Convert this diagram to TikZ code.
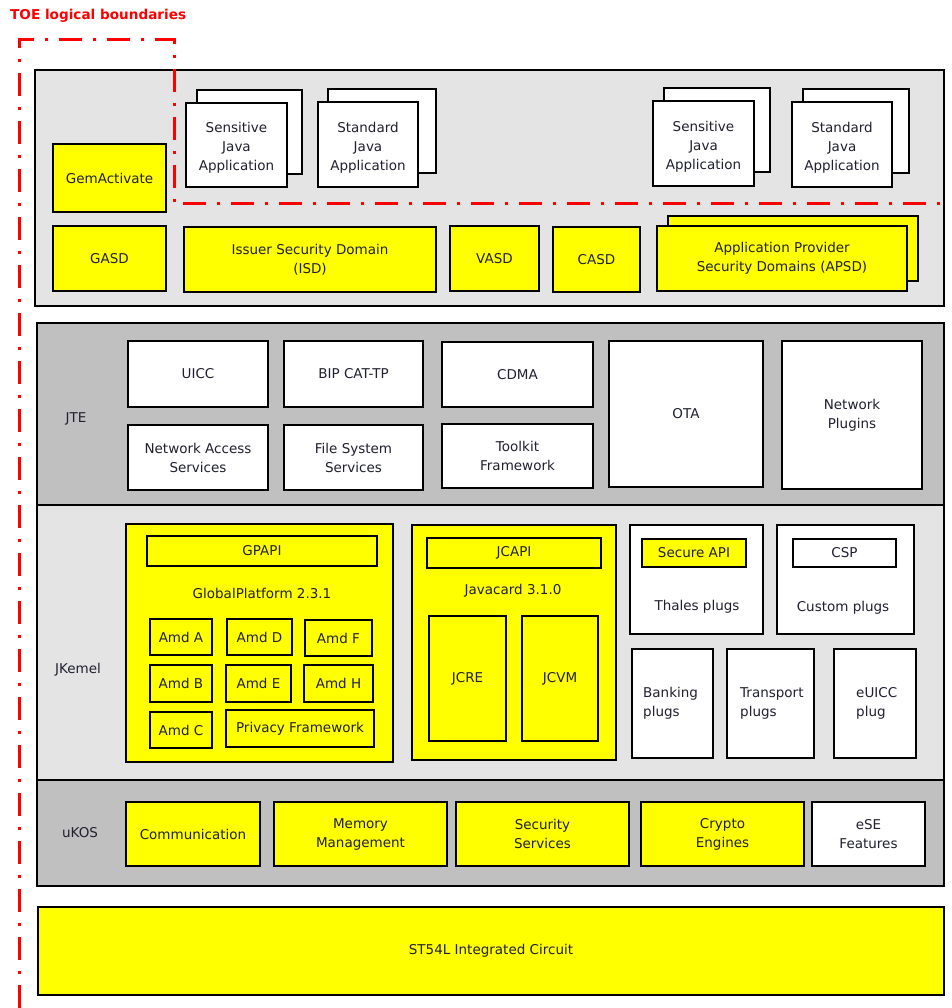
\documentclass[tikz,border=0pt]{standalone}
\usepackage{fontspec}
\setmainfont{DejaVu Sans}
\definecolor{lgray}{HTML}{E4E4E4}
\definecolor{dgray}{HTML}{C0C0C0}
\definecolor{yel}{HTML}{FFFF00}
\definecolor{toered}{HTML}{FF0000}
\definecolor{txt}{HTML}{202030}
\tikzset{
  box/.style={draw=black, line width=1.6pt, inner sep=0pt, outer sep=0pt, align=center, text=txt, font=\fontsize{13.5}{19}\selectfont},
  ybox/.style={box, fill=yel},
  wbox/.style={box, fill=white},
  tall/.style={text height=54pt},
  layerL/.style={box, fill=lgray, line width=1.5pt},
  layerD/.style={box, fill=dgray, line width=1.5pt},
  lbl/.style={inner sep=0pt, text=txt, font=\fontsize{13.5}{19}\selectfont, align=center},
  lbll/.style={lbl, anchor=west, align=left},
  toe/.style={draw=toered, line width=3pt, dash pattern=on 23pt off 11pt on 3pt off 11pt},
}
\newcommand\bx[7]{\node[#6, anchor=north west, minimum width={#4-#2}, minimum height={#5-#3}] (#1) at (#2,#3) {#7};}
\begin{document}
\begin{tikzpicture}[x=1pt, y=-1pt]
\useasboundingbox (0,0) rectangle (951,1008);
% layers
\bx{app}{35}{70}{944}{306}{layerL}{}
\bx{jte}{37}{323}{944}{505}{layerD}{}
\bx{jk}{37}{505}{944}{780}{layerL}{}
\bx{ukos}{37}{780}{944}{886}{layerD}{}
\bx{ic}{38}{907}{944}{995}{ybox}{ST54L Integrated Circuit}
% application layer
\bx{gem}{53}{144}{166}{212}{ybox}{GemActivate}
\bx{sjaB}{197}{90}{302}{174}{wbox}{}
\bx{sja}{186}{103}{287}{187}{wbox,tall}{Sensitive\\Java\\Application}
\bx{stjaB}{328}{89}{436}{173}{wbox}{}
\bx{stja}{318}{102}{418}{187}{wbox,tall}{Standard\\Java\\Application}
\bx{sjbB}{664}{88}{770}{172}{wbox}{}
\bx{sjb}{653}{101}{754}{186}{wbox,tall}{Sensitive\\Java\\Application}
\bx{stjbB}{803}{89}{909}{173}{wbox}{}
\bx{stjb}{792}{102}{892}{187}{wbox,tall}{Standard\\Java\\Application}
\bx{gasd}{53}{226}{166}{291}{ybox}{GASD}
\bx{isd}{184}{227}{436}{292}{ybox}{Issuer Security Domain\\(ISD)}
\bx{vasd}{450}{226}{539}{291}{ybox}{VASD}
\bx{casd}{553}{227}{640}{292}{ybox}{CASD}
\bx{apsdB}{668}{216}{918}{281}{ybox}{}
\bx{apsd}{657}{226}{907}{291}{ybox}{Application Provider\\Security Domains (APSD)}
% JTE
\node[lbl] (jtel) at (76,419) {JTE};
\bx{uicc}{128}{341}{268}{407}{wbox}{UICC}
\bx{bip}{284}{341}{423}{407}{wbox}{BIP CAT-TP}
\bx{cdma}{442}{342}{593}{407}{wbox}{CDMA}
\bx{nas}{128}{425}{268}{490}{wbox}{Network Access\\Services}
\bx{fss}{284}{425}{423}{490}{wbox}{File System\\Services}
\bx{tkf}{442}{424}{593}{488}{wbox}{Toolkit\\Framework}
\bx{ota}{609}{341}{763}{487}{wbox}{OTA}
\bx{np}{782}{341}{922}{489}{wbox}{Network\\Plugins}
% JKernel
\node[lbl] (jkl) at (78,670) {JKemel};
\bx{gp}{126}{524}{393}{762}{ybox}{}
\bx{gpapi}{147}{536}{377}{566}{ybox}{GPAPI}
\node[lbl] (gpl) at (262,593) {GlobalPlatform 2.3.1};
\bx{amda}{150}{619}{212}{655}{ybox}{Amd A}
\bx{amdd}{227}{619}{292}{655}{ybox}{Amd D}
\bx{amdf}{305}{620}{372}{656}{ybox}{Amd F}
\bx{amdb}{150}{665}{212}{702}{ybox}{Amd B}
\bx{amde}{226}{665}{291}{702}{ybox}{Amd E}
\bx{amdh}{304}{665}{373}{702}{ybox}{Amd H}
\bx{amdc}{150}{712}{212}{748}{ybox}{Amd C}
\bx{priv}{226}{710}{374}{747}{ybox}{Privacy Framework}
\bx{jc}{412}{525}{616}{760}{ybox}{}
\bx{jcapi}{427}{538}{601}{568}{ybox}{JCAPI}
\node[lbl] (jcl) at (513,591) {Javacard 3.1.0};
\bx{jcre}{429}{616}{506}{741}{ybox}{JCRE}
\bx{jcvm}{522}{616}{598}{741}{ybox}{JCVM}
\bx{thales}{630}{525}{763}{634}{wbox}{}
\bx{sapi}{642}{539}{746}{567}{ybox}{Secure API}
\node[lbl] (thl) at (697,607) {Thales plugs};
\bx{custom}{777}{525}{914}{634}{wbox}{}
\bx{csp}{793}{539}{896}{567}{wbox}{CSP}
\node[lbl] (cul) at (843,608) {Custom plugs};
\bx{bank}{632}{649}{713}{758}{wbox}{}
\node[lbll] (bankl) at (643,703) {Banking\\plugs};
\bx{trans}{727}{649}{814}{758}{wbox}{}
\node[lbll] (transl) at (740,703) {Transport\\plugs};
\bx{euicc}{834}{649}{916}{758}{wbox}{}
\node[lbll] (euiccl) at (856,703) {eUICC\\plug};
% uKOS
\node[lbl] (ukl) at (80,833) {uKOS};
\bx{comm}{126}{802}{260}{866}{ybox}{Communication}
\bx{mem}{274}{802}{447}{866}{ybox}{Memory\\Management}
\bx{sec}{456}{802}{629}{866}{ybox}{Security\\Services}
\bx{cry}{641}{802}{804}{866}{ybox}{Crypto\\Engines}
\bx{ese}{812}{802}{925}{866}{wbox}{eSE\\Features}
% TOE boundary
\node[inner sep=0pt, anchor=west, text=toered, font=\bfseries\fontsize{13.6}{16}\selectfont] (title) at (10,16) {TOE logical boundaries};
\coordinate (t1) at (19,1008);
\coordinate (t2) at (19,40);
\coordinate (t3) at (174,40);
\coordinate (t4) at (174,204);
\coordinate (t5) at (951,204);
\draw[toe] (t1) -- (t2) -- (t3) -- (t4) -- (t5);
\end{tikzpicture}
\end{document}
